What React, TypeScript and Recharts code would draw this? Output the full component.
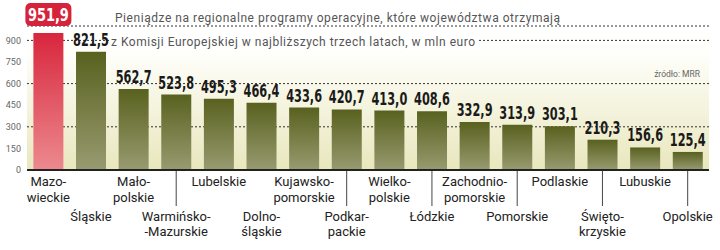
import React from 'react';
import { BarChart, Bar, XAxis, YAxis, CartesianGrid, Cell, LabelList } from 'recharts';

const categories = ['Mazowieckie', 'Śląskie', 'Małopolskie', 'Warmińsko-Mazurskie', 'Lubelskie', 'Dolnośląskie', 'Kujawsko-pomorskie', 'Podkarpackie', 'Wielkopolskie', 'Łódzkie', 'Zachodniopomorskie', 'Pomorskie', 'Podlaskie', 'Świętokrzyskie', 'Lubuskie', 'Opolskie'];
const values = [951.9, 821.5, 562.7, 523.8, 495.3, 466.4, 433.6, 420.7, 413.0, 408.6, 332.9, 313.9, 303.1, 210.3, 156.6, 125.4];
const tickLines = [
  ['Mazo-', 'wieckie'], ['Śląskie'], ['Mało-', 'polskie'], ['Warmińsko-', '-Mazurskie'],
  ['Lubelskie'], ['Dolno-', 'śląskie'], ['Kujawsko-', 'pomorskie'], ['Podkar-', 'packie'],
  ['Wielko-', 'polskie'], ['Łódzkie'], ['Zachodnio-', 'pomorskie'], ['Pomorskie'],
  ['Podlaskie'], ['Święto-', 'krzyskie'], ['Lubuskie'], ['Opolskie'],
];
const separatorIdx = [3, 7, 9, 11, 13, 15];
const yTicks = [0, 150, 300, 450, 600, 750, 900];
const titleLines = [
  'Pieniądze na regionalne programy operacyjne, które województwa otrzymają',
  'z Komisji Europejskiej w najbliższych trzech latach, w mln euro',
];
const sourceText = 'źródło: MRR';

const data = categories.map((name, i) => ({ name, value: values[i] }));
const fmt = (v: number) => v.toFixed(1).replace('.', ',');

const XTick = (props: any) => {
  const { x, y, payload } = props;
  const idx = payload?.index ?? props.index ?? categories.indexOf(payload?.value);
  const lines = tickLines[idx] || [String(payload?.value)];
  const row2 = idx % 2 === 1;
  const base = row2 ? 50.5 : 16;
  return (
    <g>
      {separatorIdx.includes(idx) && (
        <line x1={x} x2={x} y1={y + 1} y2={y + 36} stroke="#444" strokeWidth={1} />
      )}
      {lines.map((l, k) => (
        <text key={k} x={x} y={y + base + k * 15.5} textAnchor="middle" fontFamily="Roboto, sans-serif" fontSize={13} fill="#222">{l}</text>
      ))}
    </g>
  );
};

const numFont = "'DejaVu Sans Condensed', 'DejaVu Sans', sans-serif";

const ValueLabel = (props: any) => {
  const vb = props.viewBox || {};
  const x = props.x ?? vb.x;
  const y = props.y ?? vb.y;
  const width = props.width ?? vb.width;
  const value = props.value;
  const idx = props.index ?? values.indexOf(value);
  const cx = x + width / 2;
  const txt = fmt(Number(value));
  if (idx === 0) {
    return (
      <g>
        <rect x={cx - 23} y={y - 30} width={46} height={23} rx={5} fill="#d5233b" />
        <g transform={`translate(${cx},${y - 12}) scale(0.8,1)`}>
          <text x={0} y={0} textAnchor="middle" fontFamily={numFont} fontWeight="bold" fontSize={18} fill="#fff">{txt}</text>
        </g>
      </g>
    );
  }
  return (
    <g transform={`translate(${cx},${y - 6}) scale(0.7,1)`}>
      <text x={0} y={0} textAnchor="middle" fontFamily={numFont} fontWeight="bold" fontSize={18} fill="#1a1a1a">{txt}</text>
    </g>
  );
};

export default function App() {
  return (
    <div style={{ position: 'absolute', left: 0, top: 0, width: 720, height: 250, background: '#fff' }}>
      <svg width={0} height={0} style={{ position: 'absolute' }}>
        <defs>
          <linearGradient id="bgGrad" x1="0" y1="0" x2="0" y2="1">
            <stop offset="0%" stopColor="#ffffff" />
            <stop offset="20%" stopColor="#fefefa" />
            <stop offset="100%" stopColor="#e9e7bd" />
          </linearGradient>
          <linearGradient id="redGrad" x1="0" y1="0" x2="0" y2="1">
            <stop offset="0%" stopColor="#d8263d" />
            <stop offset="100%" stopColor="#ec8a8f" />
          </linearGradient>
          <linearGradient id="oliveGrad" x1="0" y1="0" x2="0" y2="1">
            <stop offset="0%" stopColor="#59611f" />
            <stop offset="100%" stopColor="#989b70" />
          </linearGradient>
        </defs>
      </svg>
      <BarChart width={720} height={250} data={data} margin={{ top: 26, right: 11, bottom: 0, left: 0 }} barCategoryGap="15%">
        <CartesianGrid vertical={false} fill="url(#bgGrad)" stroke="#333" strokeDasharray="2 2" />
        <YAxis
          type="number"
          domain={[0, 1000]}
          ticks={yTicks}
          width={27}
          axisLine={false}
          tickLine={false}
          tickSize={4}
          tickMargin={2}
          tick={{ fontSize: 9, fill: '#666', fontFamily: 'Roboto, sans-serif' }}
        />
        <XAxis
          dataKey="name"
          height={80}
          interval={0}
          tickLine={false}
          tickSize={0}
          tickMargin={0}
          axisLine={{ stroke: '#222', strokeWidth: 2 }}
          tick={<XTick />}
        />
        <Bar dataKey="value" isAnimationActive={false}>
          {data.map((d, i) => (
            <Cell key={d.name} fill={i === 0 ? 'url(#redGrad)' : 'url(#oliveGrad)'} />
          ))}
          <LabelList dataKey="value" content={<ValueLabel />} />
        </Bar>
      </BarChart>
      <svg width={720} height={250} style={{ position: 'absolute', left: 0, top: 0, pointerEvents: 'none' }}>
        <text x={115} y={22} fontFamily="Roboto, sans-serif" fontSize={12} fill="#555" textLength={445} lengthAdjust="spacing">{titleLines[0]}</text>
        <rect x={109} y={35} width={370} height={14} fill="#fff" />
        <text x={111} y={46} fontFamily="Roboto, sans-serif" fontSize={12} fill="#555" textLength={364} lengthAdjust="spacing">{titleLines[1]}</text>
        <text x={700} y={77} textAnchor="end" fontFamily="Roboto, sans-serif" fontSize={8.5} fill="#666">{sourceText}</text>
      </svg>
    </div>
  );
}
